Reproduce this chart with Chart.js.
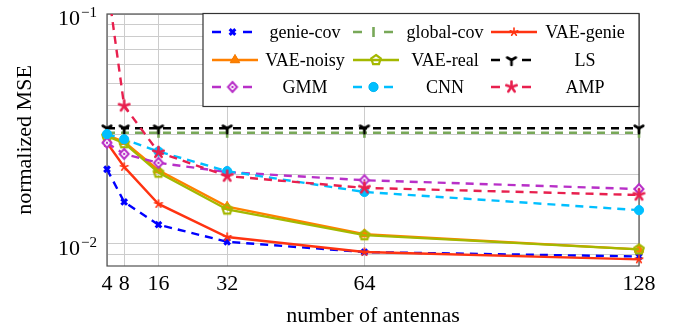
<!DOCTYPE html>
<html>
<head>
<meta charset="utf-8">
<script src="https://cdn.jsdelivr.net/npm/chart.js@4/dist/chart.umd.min.js"></script>
<style>
  html, body { margin: 0; padding: 0; background: #fff; }
  #wrap { width: 675px; height: 333px; }
</style>
</head>
<body>
<div id="wrap"><canvas id="mseChart" width="675" height="333"></canvas></div>
<script>
// number of antennas
const antennas = [4, 8, 16, 32, 64, 128];

// normalized MSE per method
const genieCov  = [0.0211, 0.0152, 0.0121, 0.0102, 0.0092, 0.0088];
const globalCov = [0.0304, 0.0304, 0.0304, 0.0304, 0.0304, 0.0304];
const vaeGenie  = [0.0275, 0.0216, 0.0149, 0.0107, 0.0092, 0.00855];
const vaeNoisy  = [0.0297, 0.0278, 0.0209, 0.0145, 0.0110, 0.00945];
const vaeReal   = [0.0294, 0.0274, 0.0204, 0.0141, 0.0109, 0.00945];
const lsVals    = [0.0318, 0.0318, 0.0318, 0.0318, 0.0318, 0.0318];
const gmmVals   = [0.0275, 0.0246, 0.0225, 0.0205, 0.0189, 0.0173];
const cnnVals   = [0.0300, 0.0285, 0.0252, 0.0207, 0.0168, 0.0140];
const ampVals   = [0.14, 0.0398, 0.0250, 0.0197, 0.0175, 0.0163];

const yMajorTicks = [0.1, 0.01];
const yGridTicks = [0.009, 0.01, 0.02, 0.03, 0.04, 0.05, 0.06, 0.07, 0.08, 0.09, 0.1];

const SERIF = '"Liberation Serif", "Times New Roman", serif';

// small canvases for marks chart.js does not have
function markCanvas(size, draw) {
    const c = document.createElement('canvas');
    c.width = size;
    c.height = size;
    const g = c.getContext('2d');
    draw(g, size / 2);
    return c;
}

function spokes(color, n, r, lw, startDeg) {
    return markCanvas(2 * r + 4, (g, c) => {
        g.strokeStyle = color;
        g.lineWidth = lw;
        g.lineCap = 'round';
        for (let i = 0; i < n; i++) {
            const a = (startDeg + i * 360 / n) * Math.PI / 180;
            g.beginPath();
            g.moveTo(c, c);
            g.lineTo(c + r * Math.cos(a), c + r * Math.sin(a));
            g.stroke();
        }
    });
}

const pentagon = markCanvas(14, (g, c) => {
    g.strokeStyle = '#a4b800';
    g.lineWidth = 2.2;
    g.beginPath();
    for (let i = 0; i < 5; i++) {
        const a = (-90 + i * 72) * Math.PI / 180;
        const px = c + 5 * Math.cos(a), py = c + 5 * Math.sin(a);
        if (i === 0) g.moveTo(px, py); else g.lineTo(px, py);
    }
    g.closePath();
    g.stroke();
});

const diamond = markCanvas(14, (g, c) => {
    g.strokeStyle = '#b830c8';
    g.fillStyle = '#ffffff';
    g.lineWidth = 2;
    g.beginPath();
    g.moveTo(c, c - 5);
    g.lineTo(c + 4.5, c);
    g.lineTo(c, c + 5);
    g.lineTo(c - 4.5, c);
    g.closePath();
    g.fill();
    g.stroke();
    g.fillStyle = '#b830c8';
    g.beginPath();
    g.arc(c, c, 1.2, 0, Math.PI * 2);
    g.fill();
});

const lsMark = spokes('#000000', 3, 5, 2.6, 90);
const vaeGenieMark = spokes('#ff3311', 5, 4, 1.6, -90);
const ampMark = spokes('#e8204e', 5, 5.5, 2.6, -90);

const series = [
    { label: 'genie-cov', data: genieCov, color: '#0000ff', dash: true, style: 'crossRot', radius: 4, bw: 3 },
    { label: 'global-cov', data: globalCov, color: '#78a858', dash: true, style: 'line', radius: 5, bw: 2.6, rot: 90 },
    { label: 'VAE-genie', data: vaeGenie, color: '#ff3311', dash: false, style: vaeGenieMark },
    { label: 'VAE-noisy', data: vaeNoisy, color: '#ff8000', dash: false, style: 'triangle', radius: 5.5, bw: 1, fill: true },
    { label: 'VAE-real', data: vaeReal, color: '#a4b800', dash: false, style: pentagon },
    { label: 'LS', data: lsVals, color: '#000000', dash: true, style: lsMark },
    { label: 'GMM', data: gmmVals, color: '#b830c8', dash: true, style: diamond },
    { label: 'CNN', data: cnnVals, color: '#00bfff', dash: true, style: 'circle', radius: 4.6, bw: 1, fill: true },
    { label: 'AMP', data: ampVals, color: '#e8204e', dash: true, style: ampMark }
];

const datasets = series.map((s, i) => ({
    label: s.label,
    data: antennas.map((x, j) => ({ x: x, y: s.data[j] })),
    borderColor: s.color,
    backgroundColor: s.fill ? s.color : 'rgba(0,0,0,0)',
    borderWidth: 2.4,
    borderDash: s.dash ? [8, 6] : [],
    tension: 0,
    pointStyle: s.style,
    pointRadius: s.radius || 5,
    pointBorderWidth: s.bw || 2,
    pointRotation: s.rot || 0,
    pointBorderColor: s.color,
    pointBackgroundColor: s.fill ? s.color : 'rgba(0,0,0,0)',
    order: series.length - i,
    clip: { left: 12, right: 12, top: 0, bottom: 12 }
}));

const framePlugin = {
    id: 'frame',
    beforeDatasetsDraw(chart) {
        const a = chart.chartArea;
        const ctx = chart.ctx;
        ctx.save();
        ctx.strokeStyle = '#505050';
        ctx.lineWidth = 1.2;
        ctx.strokeRect(a.left, a.top, a.right - a.left, a.bottom - a.top);
        ctx.restore();
    },
    afterDraw(chart) {
        const ctx = chart.ctx;
        const yScale = chart.scales.y;
        ctx.save();
        // y tick labels 10^-1, 10^-2
        ctx.fillStyle = '#000';
        ctx.textBaseline = 'alphabetic';
        ctx.textAlign = 'right';
        yMajorTicks.forEach(v => {
            const y = yScale.getPixelForValue(v);
            const exp = '\u2212' + Math.round(-Math.log10(v));
            ctx.font = '15px ' + SERIF;
            const w = ctx.measureText(exp).width;
            ctx.fillText(exp, 97, y + 3);
            ctx.font = '22px ' + SERIF;
            ctx.fillText('10', 97 - w - 1, y + 11);
        });

        // legend box
        const bx = 203, by = 13.5, bw = 436, bh = 93;
        ctx.fillStyle = '#ffffff';
        ctx.fillRect(bx, by, bw, bh);
        ctx.strokeStyle = '#333333';
        ctx.lineWidth = 1.2;
        ctx.strokeRect(bx, by, bw, bh);

        const colX = [212, 353, 491];
        const textX = [305, 445, 585];
        const rowY = [32, 60, 87];
        series.forEach((s, i) => {
            const col = i % 3, row = Math.floor(i / 3);
            const x0 = colX[col], y = rowY[row];
            ctx.strokeStyle = s.color;
            ctx.lineWidth = 2.4;
            ctx.setLineDash([]);
            ctx.beginPath();
            let mx;
            if (s.dash) {
                ctx.moveTo(x0, y); ctx.lineTo(x0 + 9, y);
                ctx.moveTo(x0 + 31, y); ctx.lineTo(x0 + 40, y);
                mx = x0 + 20.5;
            } else {
                ctx.moveTo(x0, y); ctx.lineTo(x0 + 46, y);
                mx = x0 + 23;
            }
            ctx.stroke();
            ctx.lineWidth = s.bw || 2;
            Chart.helpers.drawPoint(ctx, {
                pointStyle: s.style,
                radius: s.radius || 5,
                rotation: s.rot || 0,
                borderWidth: s.bw || 2
            }, mx, y);
            if (s.fill) {
                ctx.fillStyle = s.color;
                ctx.fill();
            }
            ctx.fillStyle = '#000';
            ctx.font = '18px ' + SERIF;
            ctx.textAlign = 'center';
            ctx.textBaseline = 'middle';
            ctx.fillText(s.label, textX[col], y + 1);
        });
        ctx.restore();
    }
};

new Chart(document.getElementById('mseChart').getContext('2d'), {
    type: 'line',
    data: { datasets: datasets },
    options: {
        responsive: false,
        animation: false,
        events: [],
        layout: { padding: { top: 14, right: 36, left: 0, bottom: 0 } },
        plugins: {
            legend: { display: false },
            tooltip: { enabled: false }
        },
        scales: {
            x: {
                type: 'linear',
                min: 4,
                max: 128,
                afterBuildTicks: scale => { scale.ticks = antennas.map(v => ({ value: v })); },
                afterFit: scale => { scale.height = 67; },
                ticks: {
                    autoSkip: false,
                    maxRotation: 0,
                    padding: 5,
                    color: '#000',
                    font: { family: SERIF, size: 22 }
                },
                grid: { color: '#cccccc', lineWidth: 1, drawTicks: false },
                border: { display: false },
                title: {
                    display: true,
                    text: 'number of antennas',
                    color: '#000',
                    font: { family: SERIF, size: 22 },
                    padding: { top: 4, bottom: 4 }
                }
            },
            y: {
                type: 'logarithmic',
                min: 0.008,
                max: 0.1,
                afterBuildTicks: scale => { scale.ticks = yGridTicks.map(v => ({ value: v })); },
                afterFit: scale => { scale.width = 107; },
                ticks: { display: false },
                grid: { color: '#cccccc', lineWidth: 1, drawTicks: false },
                border: { display: false },
                title: {
                    display: true,
                    text: 'normalized MSE',
                    color: '#000',
                    font: { family: SERIF, size: 22 },
                    padding: { top: 12, bottom: 12 }
                }
            }
        }
    },
    plugins: [framePlugin]
});
</script>
</body>
</html>
